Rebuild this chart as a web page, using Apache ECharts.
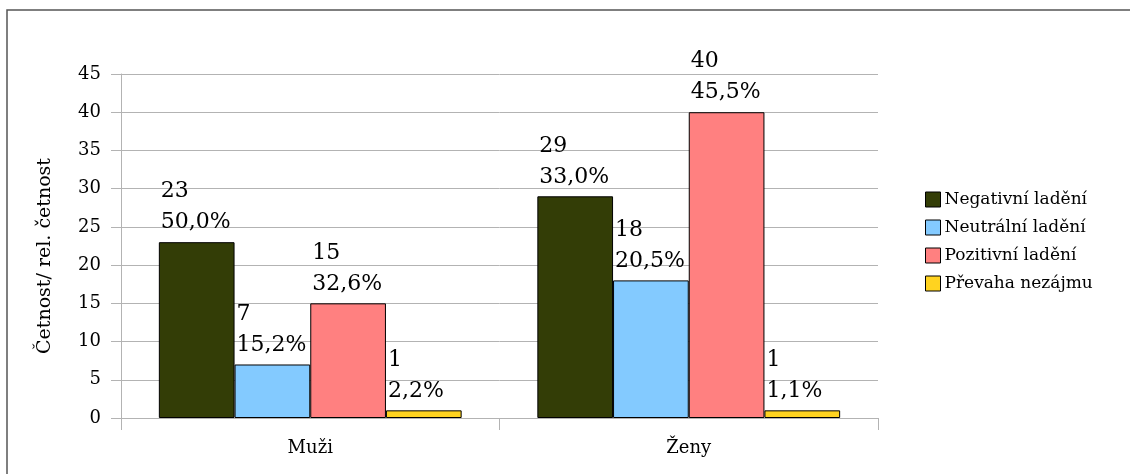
<!DOCTYPE html>
<html>
<head>
<meta charset="utf-8">
<script src="https://cdn.jsdelivr.net/npm/echarts@6/dist/echarts.min.js"></script>
<style>
html, body { margin: 0; padding: 0; background: #fff; }
#chart { width: 1130px; height: 474px; }
</style>
</head>
<body>
<div id="chart"></div>
<script>
// data
var groups = ['Muži', 'Ženy'];
var seriesNames = ['Negativní ladění', 'Neutrální ladění', 'Pozitivní ladění', 'Převaha nezájmu'];
var negativni = [23, 29];
var neutralni = [7, 18];
var pozitivni = [15, 40];
var nezajem = [1, 1];
var negativniPct = ['50,0%', '33,0%'];
var neutralniPct = ['15,2%', '20,5%'];
var pozitivniPct = ['32,6%', '45,5%'];
var nezajemPct = ['2,2%', '1,1%'];
var yTicks = [0, 5, 10, 15, 20, 25, 30, 35, 40, 45];

var colors = ['#333d06', '#83caff', '#ff8080', '#ffd320'];
var values = [negativni, neutralni, pozitivni, nezajem];
var pcts = [negativniPct, neutralniPct, pozitivniPct, nezajemPct];

var dom = document.getElementById('chart');
var myChart = echarts.init(dom);
var serif = 'DejaVu Serif';

var series = seriesNames.map(function (name, i) {
    return {
        name: name,
        type: 'bar',
        data: values[i],
        barGap: '0%',
        barCategoryGap: '20%',
        itemStyle: { color: colors[i], borderColor: '#000', borderWidth: 1 },
        label: {
            show: true,
            position: [2, -4],
            align: 'left',
            verticalAlign: 'bottom',
            fontFamily: serif,
            fontSize: 22,
            lineHeight: 31,
            color: '#000',
            formatter: function (p) {
                return p.value + '\n' + pcts[i][p.dataIndex];
            }
        }
    };
});

var option = {
    animation: false,
    color: colors,
    graphic: [{
        type: 'rect',
        shape: { x: 7, y: 10, width: 1200, height: 600 },
        style: { fill: 'none', stroke: '#555', lineWidth: 1.5 },
        silent: true
    }],
    legend: {
        orient: 'vertical',
        left: 925,
        top: 191,
        padding: 0,
        itemWidth: 15,
        itemHeight: 15,
        itemGap: 11,
        icon: 'rect',
        itemStyle: { borderColor: '#000', borderWidth: 1 },
        textStyle: { fontFamily: serif, fontSize: 17, color: '#000', padding: [0, 0, 0, -1] },
        data: seriesNames
    },
    grid: { left: 121, right: 252, top: 74, bottom: 56 },
    xAxis: {
        type: 'category',
        data: groups,
        axisLine: { lineStyle: { color: '#b3b3b3', width: 1 } },
        axisTick: { show: true, length: 12, lineStyle: { color: '#b3b3b3' } },
        axisLabel: { fontFamily: serif, fontSize: 18, color: '#000', margin: 21 }
    },
    yAxis: {
        type: 'value',
        min: yTicks[0],
        max: yTicks[yTicks.length - 1],
        interval: 5,
        name: 'Četnost/ rel. četnost',
        nameLocation: 'middle',
        nameGap: 66,
        nameTextStyle: { fontFamily: serif, fontSize: 19, color: '#000', padding: [0, 20, 0, 0] },
        axisLine: { show: true, lineStyle: { color: '#b3b3b3' } },
        axisTick: { show: true, length: 10, lineStyle: { color: '#b3b3b3' } },
        axisLabel: { fontFamily: serif, fontSize: 18, color: '#000', margin: 20 },
        splitLine: { lineStyle: { color: '#b3b3b3' } }
    },
    series: series
};

myChart.setOption(option);
</script>
</body>
</html>
